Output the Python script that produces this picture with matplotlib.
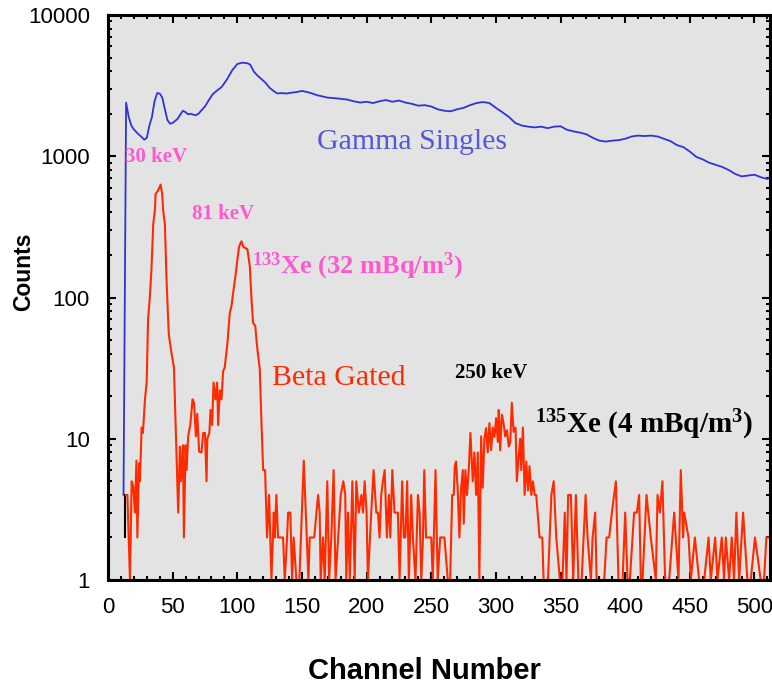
import matplotlib
matplotlib.use("Agg")
import matplotlib.pyplot as plt
from matplotlib import font_manager
from matplotlib.ticker import FixedLocator, LogLocator, FuncFormatter, NullFormatter

# Gamma singles spectrum
gamma_ch = [12, 14, 16, 18, 20, 22, 24, 26, 28, 30, 32, 34, 36, 38, 40, 42, 44, 46, 48, 50,
            52, 54, 56, 58, 60, 62, 64, 66, 68, 70, 72, 75, 78, 81, 84, 88, 92, 96, 100, 104,
            108, 110, 113, 116, 119, 122, 125, 128, 131, 134, 138, 142, 146, 150, 154, 158, 162, 166, 170, 175,
            180, 185, 190, 195, 200, 205, 210, 215, 220, 225, 230, 235, 240, 245, 250, 255, 260, 265, 270, 275,
            280, 285, 290, 295, 300, 305, 310, 315, 320, 325, 330, 335, 340, 345, 350, 355, 360, 365, 370, 375,
            380, 385, 390, 395, 400, 405, 410, 415, 420, 425, 430, 435, 440, 445, 450, 455, 460, 465, 470, 475,
            480, 485, 490, 495, 500, 505, 510, 512]
gamma_counts = [4, 2400, 1900, 1650, 1550, 1480, 1420, 1370, 1310, 1350, 1650, 1900, 2450, 2800, 2780, 2600, 2150, 1800, 1700, 1720,
                1780, 1850, 1980, 2100, 2050, 1980, 2000, 1970, 1950, 2000, 2100, 2250, 2500, 2750, 2900, 3100, 3500, 4050, 4500, 4600,
                4550, 4450, 3950, 3700, 3500, 3300, 3050, 2900, 2780, 2800, 2780, 2820, 2850, 2900, 2850, 2780, 2700, 2650, 2600, 2580,
                2550, 2520, 2450, 2400, 2430, 2380, 2450, 2500, 2430, 2480, 2400, 2350, 2280, 2300, 2250, 2150, 2100, 2080, 2150, 2200,
                2300, 2380, 2420, 2380, 2200, 2050, 1900, 1720, 1650, 1620, 1600, 1620, 1580, 1620, 1630, 1540, 1500, 1470, 1430, 1350,
                1290, 1270, 1290, 1300, 1330, 1380, 1400, 1390, 1400, 1380, 1330, 1280, 1200, 1160, 1080, 990, 950, 900, 870, 840,
                800, 750, 720, 730, 740, 710, 690, 710]

# Beta gated spectrum
beta_ch = [14, 15, 17, 18.3, 19.6, 20.8, 22, 22.7, 24, 24.7,
           26, 27, 28.6, 29.9, 31, 32.4, 33.6, 35, 36.3, 36.8,
           38.6, 40.7, 41.9, 42.7, 44, 45.3, 47, 49, 51, 52.5,
           53, 54.3, 55.6, 56.4, 58, 58.7, 60, 60.8, 62, 63.6,
           65.4, 66.5, 68, 69, 70.5, 72.3, 73.6, 75, 76.2, 76.8,
           78.4, 79.3, 80.6, 81.6, 83.1, 84.4, 85.2, 86.5, 87.8, 89,
           90.3, 92.4, 94.2, 95.5, 96.8, 98.7, 100.1, 101.4, 103.2, 104.5,
           105.7, 107.8, 109.7, 111, 112.2, 113.9, 115.3, 117.4, 118.7, 120,
           121.5, 123, 124.6, 126.4, 128.2, 129, 130.2, 131.5, 134, 135.4,
           136.7, 138.5, 139.3, 141, 142.4, 143.6, 145.7, 148, 151.4, 153,
           155, 156, 159.5, 161.2, 162.5, 163.7, 164.5, 166.3, 167.6, 169.6,
           171, 172.7, 174.5, 176, 178, 180, 182, 183.5, 184.3, 185.6,
           187, 189, 190.8, 192, 194, 196, 197.2, 198.5, 200, 201,
           203.6, 205.4, 207.5, 208.8, 210, 211.3, 212.6, 214, 215.7, 217.3,
           218.3, 219.9, 221.6, 222.9, 224.2, 225.5, 227.5, 228.8, 230, 231.4,
           232.7, 234.5, 235.8, 237.8, 239.7, 241, 242.3, 243.6, 244.6, 246,
           250, 251.2, 253.3, 255, 256.9, 260.2, 262.8, 264.6, 266.2, 267.4,
           268.2, 269.2, 270.5, 271.8, 273, 274.4, 275.1, 276.4, 277.7, 279,
           280.3, 282.1, 283.4, 284.7, 286, 287.2, 288.6, 289.8, 291.1, 292.4,
           293.7, 295, 296.3, 297.6, 298.9, 300.2, 301.5, 302.2, 303.3, 304.6,
           305.9, 307.2, 308.5, 310, 311.1, 312.3, 313.7, 315.2, 316.2, 317.5,
           318.8, 319.6, 320.9, 322.2, 323.5, 324.8, 326, 327.4, 328.7, 330,
           331.2, 333.8, 335.9, 336.9, 340.3, 341.6, 342.9, 344.7, 346.7, 349.5,
           351.5, 353.3, 354.6, 355.9, 358, 359.8, 361.9, 363.8, 366.3, 369.4,
           370.9, 373.5, 374.8, 376.8, 377.9, 383.8, 385.6, 387.6, 389.7, 392.8,
           394.8, 398, 400, 401.8, 403.6, 406.9, 409, 410.8, 412.1, 413.4,
           416.5, 419.8, 423.7, 425, 426.8, 428.8, 430.9, 434, 437.9, 441.2,
           443, 444.8, 445.6, 449, 450.8, 453.9, 457.2, 461.1, 464.5, 466.2,
           469.6, 471.4, 474.7, 476.5, 477.8, 480.4, 482.4, 484.2, 486, 488.1,
           491.2, 494.5, 497.1, 500.4, 504.8, 507.4, 509.2, 511.2]
beta_counts = [4, 4, 1, 5, 4.6, 3, 7, 2, 6.7, 5,
               12, 11, 19, 25, 70, 102, 158, 330, 420, 540,
               570, 630, 540, 410, 330, 130, 55, 41, 32, 11,
               8, 3, 8.8, 5, 9, 2, 9, 6, 10.4, 12.5,
               19, 18, 10.4, 15, 8.1, 8, 11, 11, 5, 10,
               11, 16, 12.5, 25, 19, 25, 12.5, 22, 19, 30,
               32, 48, 78, 87, 108, 145, 186, 230, 250, 230,
               225, 220, 166, 97, 66, 63, 45, 31, 13, 6,
               6, 2, 4, 1, 3, 2, 4, 2, 2, 2,
               1, 2, 3, 3, 1, 2, 1, 1, 7, 3,
               1, 2, 2, 3, 4, 3, 1, 2, 1, 5,
               1, 2, 6, 1, 2, 4, 5, 4, 1, 3,
               1, 5, 1, 5, 3, 4, 3, 5, 3, 1,
               3, 6, 3, 3, 2, 4, 5, 6, 2, 4,
               2, 6, 3, 3, 3, 1, 5, 2, 2, 5,
               1, 4, 2, 1, 4, 3, 1, 2, 6, 2,
               2, 1, 6, 1, 2, 2, 1, 1, 4, 4,
               6.4, 6.9, 4.3, 2, 4.3, 6, 2.5, 6, 4, 6,
               11, 5, 8, 4, 8, 1, 10.4, 4.5, 10, 11.9,
               8, 12.9, 8.3, 12, 10.3, 14, 9.5, 16, 8.3, 14.8,
               12.9, 10.4, 11.5, 8.8, 9.5, 18, 11.2, 12, 5, 7.3,
               10, 6, 12, 4, 6.9, 4.3, 6.4, 4, 5, 4,
               4, 2, 2, 1, 1, 2, 4, 5, 2, 1,
               1, 3, 1, 4, 4, 1, 4, 1, 1, 4,
               2, 1, 2, 3, 1, 1, 2, 2, 3, 5,
               1, 1, 3, 1, 1, 3, 3, 4, 1, 1,
               4, 2, 1, 4, 3, 5, 1, 1, 3, 1,
               6, 2, 3, 2, 1, 2, 1, 1, 2, 1,
               2, 1, 2, 1, 2, 1, 2, 1, 3, 1,
               3, 1, 1, 2, 1, 1, 2, 2]

# short black trace hidden under the others near the start
other_ch = [13.4, 13.4]
other_counts = [2, 4]

x_ticks = [0, 50, 100, 150, 200, 250, 300, 350, 400, 450, 500]
y_ticks = [1, 10, 100, 1000, 10000]

names = {f.name for f in font_manager.fontManager.ttflist}
sans = "Liberation Sans Narrow" if "Liberation Sans Narrow" in names else "Liberation Sans"
serif = "Liberation Serif"

plt.rcParams["mathtext.fontset"] = "custom"
plt.rcParams["mathtext.rm"] = "Liberation Serif:bold"
plt.rcParams["mathtext.it"] = "Liberation Serif:bold"
plt.rcParams["mathtext.bf"] = "Liberation Serif:bold"

W, H = 772, 689
fig = plt.figure(figsize=(W / 100, H / 100), dpi=100)
ax = fig.add_axes([108 / W, 1 - 580 / H, (770 - 108) / W, (580 - 15) / H])
ax.set_facecolor("#e3e3e3")

ax.plot(gamma_ch, gamma_counts, color="#3232d8", lw=1.3)
ax.plot(other_ch, other_counts, color="black", lw=1.5)
ax.plot(beta_ch, beta_counts, color="#ff2a00", lw=1.5)

ax.set_yscale("log")
ax.set_xlim(0, 512)
ax.set_ylim(1, 10000)

ax.xaxis.set_major_locator(FixedLocator(x_ticks))
ax.xaxis.set_minor_locator(FixedLocator(range(0, 513, 10)))
ax.yaxis.set_major_locator(FixedLocator(y_ticks))
ax.yaxis.set_minor_locator(LogLocator(base=10, subs=range(2, 10)))
ax.yaxis.set_major_formatter(FuncFormatter(lambda v, p: f"{int(v)}"))
ax.yaxis.set_minor_formatter(NullFormatter())

for s in ax.spines.values():
    s.set_linewidth(2.2)
ax.tick_params(which="both", direction="in", top=True, right=True, width=1.5)
ax.tick_params(which="major", length=6)
ax.tick_params(which="minor", length=3)
ax.tick_params(axis="x", which="major", pad=12)
ax.tick_params(axis="y", which="major", pad=13)
for lab in ax.get_xticklabels() + ax.get_yticklabels():
    lab.set_fontfamily(sans)
    lab.set_fontsize(16)

fig.text(424 / W, 1 - 671 / H, "Channel Number", fontfamily=sans, fontweight="bold",
         fontsize=21, ha="center", va="center")
fig.text(24 / W, 1 - 272 / H, "Counts", fontfamily=sans, fontweight="bold",
         fontsize=16.5, ha="center", va="center", rotation=90)

ax.text(162, 1260, "Gamma Singles", color="#5555dd", fontfamily=serif, fontsize=21.5, va="center")
ax.text(127, 27, "Beta Gated", color="#ff2a00", fontfamily=serif, fontsize=21.5, va="center")
ax.text(13, 980, "30 keV", color="#ff5acd", fontfamily=serif, fontweight="bold", fontsize=15, va="center")
ax.text(65, 387, "81 keV", color="#ff5acd", fontfamily=serif, fontweight="bold", fontsize=15, va="center")
ax.text(111, 165, r"$^{133}$Xe (32 mBq/m$^{3}$)", color="#ff5acd", fontfamily=serif,
        fontweight="bold", fontsize=19, va="center")
ax.text(268, 29, "250 keV", color="black", fontfamily=serif, fontweight="bold", fontsize=15, va="center")
ax.text(330, 12.6, r"$^{135}$Xe (4 mBq/m$^{3}$)", color="black", fontfamily=serif,
        fontweight="bold", fontsize=21, va="center")

fig.savefig("out.png", dpi=100)
